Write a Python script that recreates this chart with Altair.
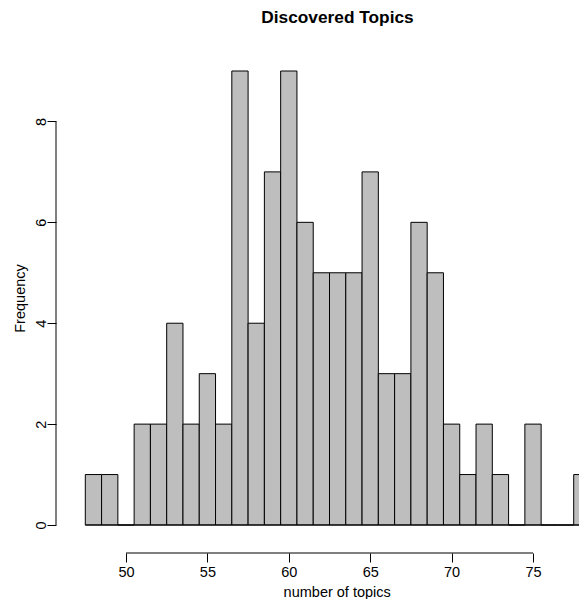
import altair as alt
import pandas as pd

# Histogram data (bin centers, width 1)
centers = [48, 49, 50, 51, 52, 53, 54, 55, 56, 57, 58, 59, 60, 61, 62, 63,
           64, 65, 66, 67, 68, 69, 70, 71, 72, 73, 74, 75, 76, 77, 78]
counts = [1, 1, 0, 2, 2, 4, 2, 3, 2, 9, 4, 7, 9, 6, 5, 5,
          5, 7, 3, 3, 6, 5, 2, 1, 2, 1, 0, 2, 0, 0, 1]
x_ticks = [50, 55, 60, 65, 70, 75]
y_ticks = [0, 2, 4, 6, 8]

df = pd.DataFrame({"center": centers, "count": counts})
df["start"] = df["center"] - 0.5
df["end"] = df["center"] + 0.5

FONT = "Liberation Sans"
W, H = 523, 454
px_per_unit = 16.28
x0 = 50 - 70 / px_per_unit
x1 = x0 + W / px_per_unit

xscale = alt.Scale(domain=[x0, x1], nice=False, zero=False)
yscale = alt.Scale(domain=[0, 9], nice=False, zero=False)

base = alt.Chart(df)

bars = base.mark_bar(fill="#BEBEBE", stroke="black", strokeWidth=1).encode(
    x=alt.X("start:Q", scale=xscale,
            axis=alt.Axis(values=x_ticks, domain=False, offset=28, tickSize=9,
                          tickColor="black", labelColor="black", labelFont=FONT,
                          labelFontSize=14.5, labelPadding=3, grid=False,
                          title="number of topics", titleFont=FONT,
                          titleFontSize=14.5, titleFontWeight="normal",
                          titleColor="black", titleX=280.7, titleY=43,
                          titleBaseline="alphabetic", titleAlign="center")),
    x2="end:Q",
    y=alt.Y("count:Q", scale=yscale,
            axis=alt.Axis(values=y_ticks, domain=False, tickSize=9,
                          tickColor="black", labelColor="black", labelFont=FONT,
                          labelFontSize=14.5, labelPadding=2, labelAngle=270,
                          labelAlign="center", labelBaseline="alphabetic",
                          grid=False, title="Frequency", titleFont=FONT,
                          titleFontSize=14.5, titleFontWeight="normal",
                          titleColor="black", titleAngle=270, titleX=-32,
                          titleY=227, titleAlign="center",
                          titleBaseline="alphabetic")),
    y2=alt.datum(0),
)

baseline = base.mark_rule(color="black", strokeWidth=1).encode(
    x=alt.X("min(start):Q", scale=xscale),
    x2="max(end):Q",
    y=alt.datum(0),
)

xaxis_line = alt.Chart(pd.DataFrame({"a": [x_ticks[0]], "b": [x_ticks[-1]]})).mark_rule(
    color="black", strokeWidth=1).encode(
    x=alt.X("a:Q", scale=xscale), x2="b:Q", y=alt.value(H + 28))

yaxis_line = alt.Chart(pd.DataFrame({"a": [y_ticks[0]], "b": [y_ticks[-1]]})).mark_rule(
    color="black", strokeWidth=1).encode(
    y=alt.Y("a:Q", scale=yscale), y2="b:Q", x=alt.value(0))

chart = alt.layer(bars, baseline, xaxis_line, yaxis_line).properties(
    width=W, height=H,
    title=alt.TitleParams("Discovered Topics", font=FONT, fontSize=17.3,
                          fontWeight="bold", color="black", anchor="middle",
                          dx=20, offset=30, baseline="alphabetic"),
    autosize=alt.AutoSizeParams(type="none"),
    padding={"left": 48, "top": 63, "right": 0, "bottom": 74},
).configure(background="white").configure_view(strokeWidth=0, stroke=None)

chart.save("out.html", embed_options={"renderer": "svg", "actions": False})
